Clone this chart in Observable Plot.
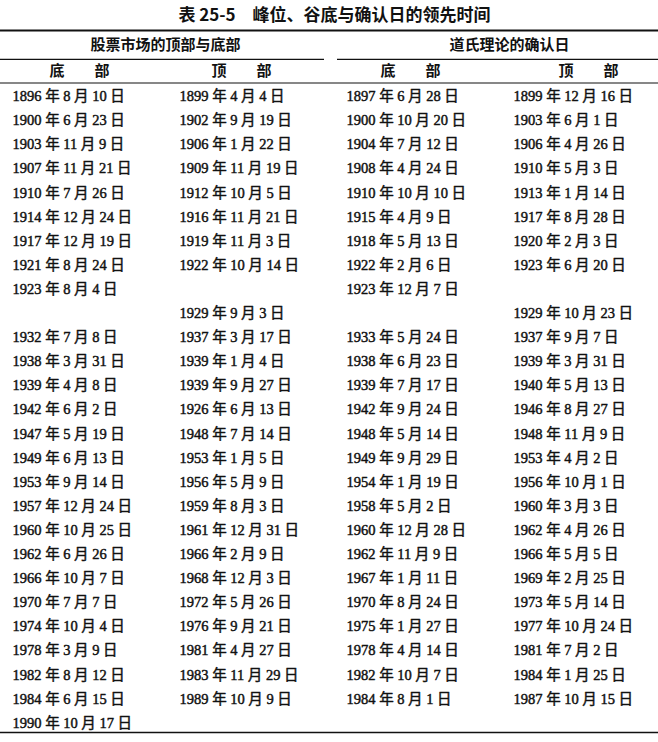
<!DOCTYPE html>
<html>
<head>
<meta charset="utf-8">
<script src="https://cdn.jsdelivr.net/npm/d3@7"></script>
<script src="https://cdn.jsdelivr.net/npm/@observablehq/plot@0.6"></script>
<style>
  html, body { margin: 0; padding: 0; background: #fff; overflow: hidden; }
</style>
</head>
<body>
<div id="chart"></div>
<script>
// ---- Data ----
const title = "表 25-5\u3000峰位、谷底与确认日的领先时间";
const groupHeaders = ["股票市场的顶部与底部", "道氏理论的确认日"];
const subHeaders = ["底\u3000\u3000部", "顶\u3000\u3000部", "底\u3000\u3000部", "顶\u3000\u3000部"];
const columns = ["marketBottom", "marketTop", "dowBottom", "dowTop"];

const marketBottoms = [
  "1896 年 8 月 10 日", "1900 年 6 月 23 日", "1903 年 11 月 9 日", "1907 年 11 月 21 日",
  "1910 年 7 月 26 日", "1914 年 12 月 24 日", "1917 年 12 月 19 日", "1921 年 8 月 24 日",
  "1923 年 8 月 4 日", "", "1932 年 7 月 8 日", "1938 年 3 月 31 日",
  "1939 年 4 月 8 日", "1942 年 6 月 2 日", "1947 年 5 月 19 日", "1949 年 6 月 13 日",
  "1953 年 9 月 14 日", "1957 年 12 月 24 日", "1960 年 10 月 25 日", "1962 年 6 月 26 日",
  "1966 年 10 月 7 日", "1970 年 7 月 7 日", "1974 年 10 月 4 日", "1978 年 3 月 9 日",
  "1982 年 8 月 12 日", "1984 年 6 月 15 日", "1990 年 10 月 17 日"
];
const marketTops = [
  "1899 年 4 月 4 日", "1902 年 9 月 19 日", "1906 年 1 月 22 日", "1909 年 11 月 19 日",
  "1912 年 10 月 5 日", "1916 年 11 月 21 日", "1919 年 11 月 3 日", "1922 年 10 月 14 日",
  "", "1929 年 9 月 3 日", "1937 年 3 月 17 日", "1939 年 1 月 4 日",
  "1939 年 9 月 27 日", "1926 年 6 月 13 日", "1948 年 7 月 14 日", "1953 年 1 月 5 日",
  "1956 年 5 月 9 日", "1959 年 8 月 3 日", "1961 年 12 月 31 日", "1966 年 2 月 9 日",
  "1968 年 12 月 3 日", "1972 年 5 月 26 日", "1976 年 9 月 21 日", "1981 年 4 月 27 日",
  "1983 年 11 月 29 日", "1989 年 10 月 9 日", ""
];
const dowBottoms = [
  "1897 年 6 月 28 日", "1900 年 10 月 20 日", "1904 年 7 月 12 日", "1908 年 4 月 24 日",
  "1910 年 10 月 10 日", "1915 年 4 月 9 日", "1918 年 5 月 13 日", "1922 年 2 月 6 日",
  "1923 年 12 月 7 日", "", "1933 年 5 月 24 日", "1938 年 6 月 23 日",
  "1939 年 7 月 17 日", "1942 年 9 月 24 日", "1948 年 5 月 14 日", "1949 年 9 月 29 日",
  "1954 年 1 月 19 日", "1958 年 5 月 2 日", "1960 年 12 月 28 日", "1962 年 11 月 9 日",
  "1967 年 1 月 11 日", "1970 年 8 月 24 日", "1975 年 1 月 27 日", "1978 年 4 月 14 日",
  "1982 年 10 月 7 日", "1984 年 8 月 1 日", ""
];
const dowTops = [
  "1899 年 12 月 16 日", "1903 年 6 月 1 日", "1906 年 4 月 26 日", "1910 年 5 月 3 日",
  "1913 年 1 月 14 日", "1917 年 8 月 28 日", "1920 年 2 月 3 日", "1923 年 6 月 20 日",
  "", "1929 年 10 月 23 日", "1937 年 9 月 7 日", "1939 年 3 月 31 日",
  "1940 年 5 月 13 日", "1946 年 8 月 27 日", "1948 年 11 月 9 日", "1953 年 4 月 2 日",
  "1956 年 10 月 1 日", "1960 年 3 月 3 日", "1962 年 4 月 26 日", "1966 年 5 月 5 日",
  "1969 年 2 月 25 日", "1973 年 5 月 14 日", "1977 年 10 月 24 日", "1981 年 7 月 2 日",
  "1984 年 1 月 25 日", "1987 年 10 月 15 日", ""
];

// ---- Table built from the arrays ----
const seriesByColumn = [marketBottoms, marketTops, dowBottoms, dowTops];
const cells = [];
seriesByColumn.forEach((series, c) => {
  series.forEach((label, row) => {
    if (label) cells.push({col: columns[c], row, label});
  });
});
const nRows = marketBottoms.length;

// ---- Layout / style ----
const W = 658, H = 742;
const rowTop = 96, rowStep = 24.1;
const ink = "#111";
const cjkBold = "'Noto Sans CJK SC', sans-serif";
const bodyFont = "'Liberation Serif', 'Noto Sans CJK SC', serif";
const subDx = [67, 62, 64, 75];
const groupAnchor = [1, 3];
const groupDx = [-14, -4];

const marks = [
  // title
  Plot.text([title], {frameAnchor: "top", dy: 15, dx: 5, lineAnchor: "middle", text: d => d,
    fontSize: 17, fontWeight: "bold", fontFamily: cjkBold, fill: ink}),
  // top thick rule
  Plot.ruleY([-2.74], {stroke: ink, strokeWidth: 2}),
  // group headers
  ...groupHeaders.map((g, i) => Plot.text([g], {
    x: () => columns[groupAnchor[i]], y: () => -2.12, dx: groupDx[i], text: d => d,
    textAnchor: "middle", fontSize: 15, fontWeight: "bold", fontFamily: cjkBold, fill: ink})),
  // group rules
  Plot.ruleY([-1.54], {stroke: ink, strokeWidth: 1.2, insetRight: W - 324}),
  Plot.ruleY([-1.54], {stroke: ink, strokeWidth: 1.2, insetLeft: 337}),
  // sub headers
  ...subHeaders.map((s, i) => Plot.text([s], {
    x: () => columns[i], y: () => -1.04, dx: subDx[i], text: d => d,
    textAnchor: "middle", fontSize: 15, fontWeight: "bold", fontFamily: cjkBold, fill: ink})),
  // sub header rule
  Plot.ruleY([-0.56], {stroke: ink, strokeWidth: 1.2}),
  // data cells
  Plot.text(cells, {x: "col", y: "row", text: "label", textAnchor: "start",
    fontSize: 14.5, fontFamily: bodyFont, fill: ink, stroke: ink, strokeWidth: 0.45}),
  // bottom rule
  Plot.ruleY([26.39], {stroke: ink, strokeWidth: 1.6})
];

const chart = Plot.plot({
  width: W, height: H,
  marginTop: 0, marginBottom: 0, marginLeft: 0, marginRight: 0,
  x: {type: "point", domain: columns, range: [12, 513], padding: 0, axis: null},
  y: {domain: [0, nRows - 1], range: [rowTop, rowTop + (nRows - 1) * rowStep], axis: null},
  style: {background: "#fff", color: ink},
  marks
});
document.getElementById("chart").appendChild(chart);
</script>
</body>
</html>
